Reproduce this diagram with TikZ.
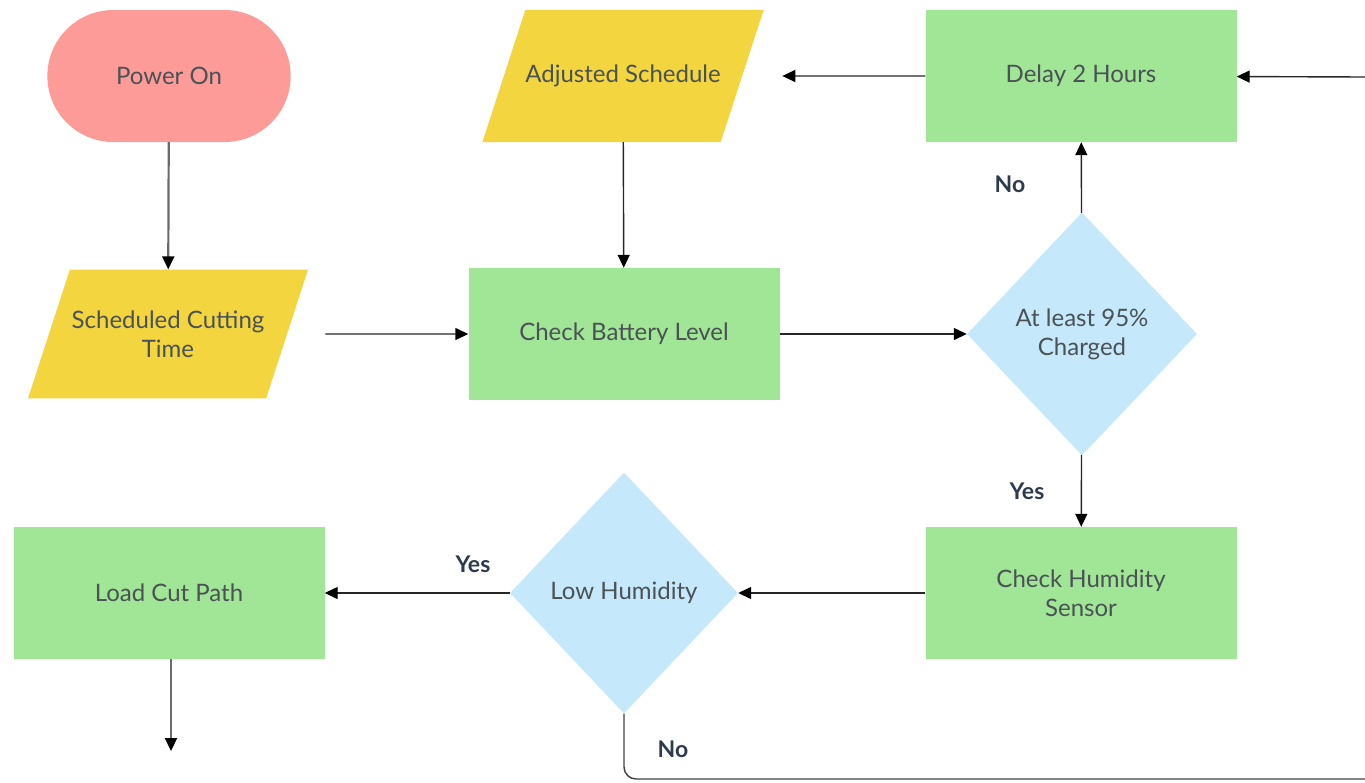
\documentclass[tikz,border=0pt]{standalone}
\usepackage{fontspec}
\setmainfont{Lato}
\usepackage{tikz}
\usetikzlibrary{shapes.geometric}
\usetikzlibrary{shapes.misc}
\usetikzlibrary{arrows.meta}
\usetikzlibrary{calc}

\definecolor{boxgreen}{HTML}{A1E596}
\definecolor{ioyellow}{HTML}{F2D53F}
\definecolor{askblue}{HTML}{C6E8FB}
\definecolor{startred}{HTML}{FC9B98}
\definecolor{nodetext}{HTML}{4A5256}
\definecolor{labeltext}{HTML}{2E3B4C}
\definecolor{linegray}{HTML}{6A6A6A}

\begin{document}
\begin{tikzpicture}[x=1pt,y=-1pt,
	every node/.style={font=\fontsize{24}{29}\selectfont,text=nodetext,align=center},
	startbox/.style={rounded rectangle,fill=startred,minimum width=250pt,minimum height=132pt},
	iobox/.style={trapezium,trapezium left angle=72,trapezium right angle=108,trapezium stretches body,
		fill=ioyellow,inner xsep=0pt,minimum width=280pt},
	procbox/.style={rectangle,fill=boxgreen,minimum width=311pt,minimum height=132pt},
	askbox/.style={diamond,fill=askblue,inner sep=0pt},
	answer/.style={font=\fontsize{23}{24}\selectfont\bfseries,text=labeltext},
	flow/.style={line width=1.4pt,draw=black!85,-{Triangle[length=13pt,width=12pt,color=black]}},
	grayflow/.style={flow,line width=2.2pt,draw=linegray}]
		  \useasboundingbox (0,0) rectangle (1365,782);
		  % top row
		  \node[startbox] (power) at (169,76) {Power On};
		  \node[iobox,inner ysep=55pt] (adjusted) at (623,76) {Adjusted Schedule};
		  \node[procbox] (delay) at (1081,76) {Delay 2 Hours};
		  % middle row
		  \node[iobox,inner ysep=41pt] (sched) at (168,334) {Scheduled Cutting\\Time};
		  \node[procbox] (battery) at (624,334) {Check Battery Level};
		  \node[askbox,minimum width=230pt,minimum height=243pt] (charged) at (1082,334) {At least 95\%\\Charged};
		  % bottom row
		  \node[procbox] (loadpath) at (169,593) {Load Cut Path};
		  \node[askbox,minimum width=228pt,minimum height=241pt] (humid) at (624,593) {Low Humidity};
		  \node[procbox] (sensor) at (1081,593) {Check Humidity\\Sensor};
		  % loose ends
		  \coordinate (loopin) at (1365,77);
		  \coordinate (loopout) at (1365,779);
		  \coordinate (pathout) at (171,751);

		  \draw[grayflow] (power) -- (sched);
		  \draw[flow,shorten <=38pt] (sched.east) -- (battery);
		  \draw[flow] (adjusted) -- (battery);
		  \draw[flow] (battery) -- (charged);
		  \draw[flow] (charged) -- (delay);
		  \draw[flow,shorten >=40pt] (delay) -- (adjusted.east);
		  \draw[flow] (loopin) -- (delay);
		  \draw[flow] (charged) -- (sensor);
		  \draw[flow] (sensor) -- (humid);
		  \draw[flow] (humid) -- (loadpath);
		  \draw[grayflow] (loadpath.south -| pathout) -- (pathout);
		  \draw[line width=1.4pt,draw=black!75,rounded corners=12pt] (humid.south) |- (loopout);

		  \node[answer] (nocharge) at (1010,184) {No};
		  \node[answer] (yescharge) at (1027,491) {Yes};
		  \node[answer] (yeshumid) at (473,564) {Yes};
		  \node[answer] (nohumid) at (673,749) {No};
\end{tikzpicture}
\end{document}
